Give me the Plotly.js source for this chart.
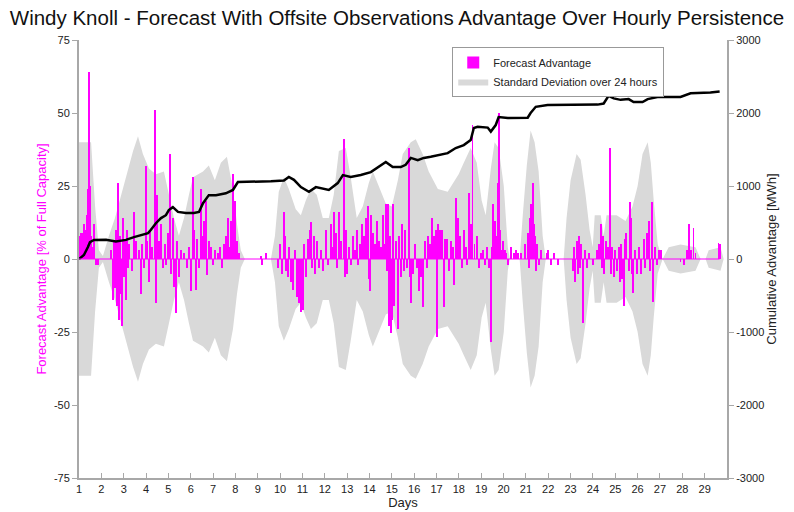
<!DOCTYPE html>
<html>
<head>
<meta charset="utf-8">
<script src="https://cdn.plot.ly/plotly-3.0.1.min.js"></script>
<style>html,body{margin:0;padding:0;background:#fff}#chart{width:794px;height:512px}</style>
</head>
<body>
<div id="chart"></div>
<script>
// ---- Data ----
// Standard deviation over 24 hours (band is +/- sd)
const sdDays = [1.00,1.54,1.72,1.89,2.07,2.34,2.61,2.88,3.15,3.42,3.64,3.86,4.13,4.44,4.80,5.02,5.25,5.47,5.70,5.92,6.10,6.55,6.81,7.08,7.35,7.62,7.89,8.07,8.24,8.42,
  9.59,9.77,9.94,10.17,10.39,10.70,10.93,11.15,11.38,11.64,11.91,12.18,12.40,12.63,12.94,13.16,13.43,13.70,13.97,14.15,14.42,14.73,15.00,15.27,15.49,15.85,16.07,16.38,16.65,17.06,17.50,17.99,18.22,18.53,18.80,19.02,19.20,19.43,19.60,19.78,20.01,20.19,20.28,
  20.72,20.86,21.04,21.21,21.39,21.57,21.75,21.89,22.69,22.82,23.00,23.27,23.45,23.67,23.85,23.99,24.08,24.35,24.48,24.61,25.06,25.46,25.77,26.00,26.22,26.45,26.59,26.72,26.90,27.12,27.39,27.92,28.59,28.82,29.04,29.18,29.71,29.85];
const sdVals = [40,40,18,3,1,8,14,22,30,37,42,36,31,29,30,22,14,8,14,22,28,30,32,27,33,35,24,12,3,0,
  0,8,23,28,24,17,15,20,24,22,14,14,22,37,38,28,14,18,26,30,25,19,18,27,36,40,41,36,30,24,23,29,33,38,33,20,15,31,40,38,25,4,0,
  0,15,32,44,40,30,8,0,0,14,27,36,34,22,10,4,15,15,8,15,15,13,18,25,36,40,33,20,5,0,4,5,4,0,0,3,4,0];

// Forecast advantage [% of full capacity]
const barDays = [1.04,1.09,1.13,1.18,1.22,1.27,1.31,1.36,1.40,1.45,1.49,1.54,1.58,1.67,1.76,1.85,
  2.43,2.52,2.57,2.61,2.65,2.70,2.74,2.79,2.83,2.88,2.92,2.97,3.01,3.06,3.10,3.15,3.19,3.24,3.37,3.46,3.55,3.68,3.77,3.82,3.91,4.00,4.04,4.13,4.18,4.26,4.40,4.44,4.49,4.58,4.67,4.76,4.85,4.89,4.98,
  5.07,5.11,5.20,5.25,5.34,5.38,5.47,5.56,5.70,5.83,5.92,6.01,6.10,6.14,6.23,6.28,6.37,6.46,6.50,6.59,6.68,6.72,6.81,6.90,6.99,7.08,7.22,7.31,7.40,7.48,7.57,7.66,7.75,7.80,7.89,7.98,8.07,8.16,
  9.14,9.18,9.36,
  9.90,9.99,10.08,10.17,10.21,10.26,10.35,10.39,10.48,10.57,10.66,10.75,10.84,10.93,11.02,11.06,11.15,11.24,11.33,11.38,11.42,11.51,11.55,11.64,11.73,11.82,11.91,12.05,12.14,12.27,12.36,12.40,12.49,12.54,12.63,12.72,12.85,12.90,12.94,12.99,
  13.08,13.16,13.25,13.34,13.43,13.48,13.57,13.66,13.75,13.84,13.93,13.97,14.02,14.06,14.15,14.24,14.33,14.42,14.51,14.60,14.64,14.73,14.78,14.82,14.86,14.91,14.95,15.00,15.04,15.09,15.18,15.27,15.31,15.40,15.45,15.54,15.58,15.67,15.76,15.81,15.85,15.94,
  16.03,16.12,16.21,16.30,16.38,16.47,16.56,16.61,16.70,16.79,16.88,16.97,17.01,17.06,17.15,17.23,17.32,17.37,17.46,17.55,17.64,17.73,17.77,17.86,17.95,18.04,18.13,18.22,18.31,18.35,18.44,18.53,18.61,18.70,18.80,18.89,18.98,
  19.07,19.16,19.25,19.34,19.43,19.47,19.52,19.61,19.65,19.74,19.78,19.83,19.87,19.96,20.06,20.10,20.19,
  20.32,20.45,20.54,20.63,20.77,20.95,21.08,21.12,21.17,21.21,21.30,21.35,21.39,21.44,21.48,21.57,21.66,21.93,21.98,22.11,22.24,22.42,
  23.09,23.14,23.18,23.27,23.32,23.36,23.41,23.45,23.54,23.63,23.72,23.81,23.99,24.17,24.26,24.35,24.40,24.44,24.48,24.57,24.66,24.76,24.80,24.84,24.94,24.97,
  25.06,25.15,25.20,25.24,25.29,25.38,25.42,25.47,25.60,25.64,25.69,25.73,25.78,25.87,25.96,26.05,26.14,26.27,26.31,26.41,26.49,26.54,26.63,26.67,26.76,26.85,26.94,27.03,
  27.92,28.06,28.19,28.28,28.37,28.50,28.59,29.62,29.67];
const barVals = [8,9,5,9,12,7,10,15,24,64,25,8,4,12,-2,-2,
  3,-14,6,-10,10,-16,26,-21,8,-12,-23,14,-6,6,-14,10,-3,5,-4,16,6,3,-12,5,-3,32,6,-8,10,4,51,-15,22,6,12,-3,5,-2,9,
  36,-5,14,-9.5,-18.6,6,-6,3,2,-3,4,-11,28,10,-10.6,7,-3,24,8,13,20,-5.5,6,4,-2,3,2,4,-3,5,8,14,4,13,29,20,6,2,
  1,-2,2,
  -3,5,-5,16,8,-4,-6,4,-8,-10.6,3,-13,-15,-18,-17.5,5,-6,7,10,12.7,-3,8,-5,6,-3,3,-4,10,-2,12,4,16,9,-3,16,6,41,-6,10,-5,
  4,-2,8,3,10,-2,5,12,8,14,18,-7,-11,15,9,5,13,6,4,15,5,19,-4,19,-23,8,-25.5,-21,19,-16,6,-24,8,-6,12,-4,10,-3,38,-6,-15,-5,
  5,-3,-11,-6,-16.6,6,-3,8,5,14,8,10,-26.6,12,10,10,-16.4,7,7,-4,6,4,-9,21,14,8,-3,10,4,-2,22.6,12,46,5,8,-3,2,
  3,-2,4,-3,-28.4,4,19,13,8,26,50,10,3,6,3,2,-2,
  4,2,3,2,2,5,9,-3,14,19,26,12,8,-4,5,-2,3,2,3,-2,2,-2,
  -4,4,-8,6,-5,8,-3,5,-22,3,-3,2,-2,3,5,12,-3,8,-5,6,4,38,-5,4,-6,3,
  -4,4,-8,5,-7,-16,7,9,-4,19.5,14,-5,-11.6,3,-5,4,-5,7,-3,9,13,-4,19.5,-14.7,4,-2,3,3,
  -1,-2,3,12,3,10.6,2,5.5,5];

// Cumulative advantage [MWh]
const cumDays = [1.00,1.22,1.40,1.49,1.67,2.21,2.65,3.10,3.46,3.86,4.09,4.22,4.44,4.67,4.89,5.02,5.20,5.43,5.79,6.14,6.37,6.55,6.81,7.13,7.57,7.89,8.11,9.59,10.17,10.39,10.62,10.93,11.29,11.60,11.82,12.18,12.58,12.81,13.16,13.61,14.06,14.37,14.73,15.04,15.40,15.62,15.85,16.16,16.43,16.74,17.19,17.50,17.86,18.22,18.53,18.67,18.84,19.29,19.43,19.65,19.78,20.19,21.08,21.21,21.44,21.97,24.21,24.48,24.70,24.93,25.24,25.60,25.82,26.22,26.45,26.89,27.92,28.37,29.26,29.67];
const cumVals = [0,55,165,230,260,262,240,262,300,330,355,400,490,560,600,670,710,645,630,630,645,765,875,875,900,945,1055,1065,1075,1125,1085,985,920,985,970,945,1040,1150,1125,1150,1190,1260,1330,1260,1260,1290,1385,1355,1385,1400,1425,1450,1520,1560,1630,1795,1810,1800,1745,1835,1945,1930,1935,2000,2085,2110,2115,2130,2235,2200,2180,2190,2150,2150,2190,2220,2220,2270,2280,2295];

// Ticks
const xTickVals = [1,2,3,4,5,6,7,8,9,10,11,12,13,14,15,16,17,18,19,20,21,22,23,24,25,26,27,28,29];
const xTickText = xTickVals.map(String);
const yLeftTicks = [-75,-50,-25,0,25,50,75];
const yLeftText = ['-75','-50','-25','0','25','50','75'];
const yRightTicks = [-3000,-2000,-1000,0,1000,2000,3000];
const yRightText = ['-3000','-2000','-1000','0','1000','2000','3000'];

// ---- Traces ----
const FONT = 'Liberation Sans, Arial, sans-serif';
const bars = {x: barDays, y: barVals, type: 'bar', width: 0.085, marker: {color: '#ff00ff', line: {width: 0}},
  name: 'Forecast Advantage', legendrank: 1, xaxis: 'x', yaxis: 'y2'};
const sdUpper = {x: sdDays, y: sdVals, type: 'scatter', mode: 'lines', line: {width: 0, color: '#d9d9d9'},
  hoverinfo: 'skip', showlegend: false, xaxis: 'x', yaxis: 'y'};
const sdLower = {x: sdDays, y: sdVals.map(v => -v), type: 'scatter', mode: 'lines', line: {width: 0, color: '#d9d9d9'},
  fill: 'tonexty', fillcolor: '#d9d9d9', name: 'Standard Deviation over 24 hours', legendrank: 2, xaxis: 'x', yaxis: 'y'};
const cum = {x: cumDays, y: cumVals, type: 'scatter', mode: 'lines', line: {color: '#000', width: 2.5},
  showlegend: false, xaxis: 'x', yaxis: 'y3'};

const axisCommon = {showgrid: false, showline: true, linecolor: '#a8a8a8', linewidth: 2,
  tickcolor: '#a8a8a8', ticklen: 5, tickwidth: 1, tickfont: {family: FONT, size: 11, color: '#222'}};

const layout = {
  width: 794, height: 512,
  margin: {l: 79, r: 67, t: 40, b: 34},
  paper_bgcolor: '#fff', plot_bgcolor: '#fff',
  font: {family: FONT, color: '#222'},
  title: {text: 'Windy Knoll - Forecast With Offsite Observations Advantage Over Hourly Persistence',
    font: {family: FONT, size: 20.5, color: '#111'}, x: 0.5, xref: 'container', y: 0.965, yref: 'container', yanchor: 'middle'},
  showlegend: true,
  legend: {x: 0.576, y: 0.984, xanchor: 'left', yanchor: 'top', bgcolor: '#fff', bordercolor: '#999', borderwidth: 1,
    font: {family: FONT, size: 11, color: '#222'}, tracegroupgap: 0, itemwidth: 30, traceorder: 'normal'},
  bargap: 0,
  xaxis: Object.assign({}, axisCommon, {range: [1, 30], tickvals: xTickVals, ticktext: xTickText, ticks: 'inside',
    zeroline: false, title: {text: 'Days', font: {family: FONT, size: 13, color: '#222'}, standoff: 4}}),
  yaxis: Object.assign({}, axisCommon, {range: [-75, 75], tickvals: yLeftTicks, ticktext: yLeftText, ticks: 'outside',
    zeroline: false, title: {text: 'Forecast Advantage [% of Full Capacity]', font: {family: FONT, size: 13, color: '#ff00ff'}, standoff: 4}}),
  yaxis2: {overlaying: 'y', range: [-75, 75], visible: false, showgrid: false, zeroline: false},
  yaxis3: Object.assign({}, axisCommon, {overlaying: 'y', side: 'right', range: [-3000, 3000], tickvals: yRightTicks, ticktext: yRightText,
    ticks: 'outside', zeroline: false, title: {text: 'Cumulative Advantage [MWh]', font: {family: FONT, size: 13, color: '#222'}, standoff: 4}}),
  shapes: [{type: 'line', xref: 'x', yref: 'y2', x0: xTickVals[0], x1: barDays[barDays.length - 1], y0: 0, y1: 0,
    line: {color: '#ff00ff', width: 1}, layer: 'above'}]
};

Plotly.newPlot('chart', [bars, sdUpper, sdLower, cum], layout, {displayModeBar: false, staticPlot: true});
</script>
</body>
</html>
